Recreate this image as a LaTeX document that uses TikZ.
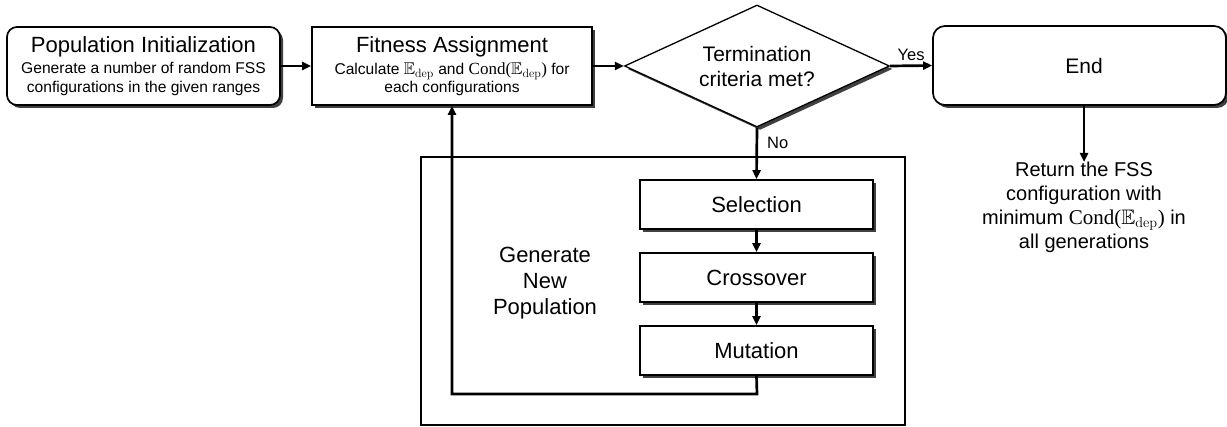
\documentclass[tikz,border=0pt]{standalone}
\usepackage{amssymb}
\usepackage[no-math]{fontspec}
\setmainfont{Liberation Sans}
\newfontfamily\condfont{Liberation Serif}
\usetikzlibrary{shapes.geometric,shadows,arrows.meta}
\newcommand{\Edep}{\mathbb{E}_{\mathrm{dep}}}
\newcommand{\CondE}{{\condfont Cond(}$\Edep${\condfont )}}
\begin{document}
\begin{tikzpicture}[x=1pt,y=-1pt,
  shad/.style={drop shadow={shadow xshift=3pt,shadow yshift=-3pt,fill=black!75,opacity=1}},
  box/.style={draw,line width=1.7pt,fill=white,shad,inner sep=0pt,align=center},
  stepbox/.style={box,minimum width=233pt,minimum height=49pt,font=\fontsize{22}{26}\selectfont},
  arr/.style={line width=2.7pt,-{Triangle[length=9pt,width=8pt]}},
  lbl/.style={font=\fontsize{16.5}{18}\selectfont,inner sep=0pt}]
\useasboundingbox (0,0) rectangle (1227,427);
% group frame
\node[draw,line width=1.1pt,minimum width=484pt,minimum height=268pt,inner sep=0pt] (grp) at (663,291) {};
% boxes
\node[box,rounded corners=10pt,minimum width=273pt,minimum height=78pt,font=\fontsize{15.6}{18.5}\selectfont] (pop) at (143.5,66)
  {{\fontsize{22}{24}\selectfont Population Initialization}\\[3pt]
   Generate a number of random FSS\\ configurations in the given ranges};
\node[box,minimum width=280pt,minimum height=78pt,font=\fontsize{15.6}{17.5}\selectfont] (fit) at (452,66)
  {{\fontsize{22}{24}\selectfont Fitness Assignment}\\[5pt]
   Calculate {\fontsize{17}{17.5}\selectfont$\Edep$} and {\fontsize{17}{17.5}\selectfont\CondE} for\\ each configurations};
\node[diamond,aspect=2.17,draw,line width=1.3pt,fill=white,shad,inner sep=0pt,minimum width=265pt,minimum height=122pt,
  align=center,font=\fontsize{21}{25}\selectfont] (term) at (757,66) {Termination\\ criteria met?};
\node[box,rounded corners=12pt,minimum width=293pt,minimum height=79pt,font=\fontsize{21}{24}\selectfont] (end) at (1079.5,65.5) {\hspace*{9pt}End};
\node[stepbox] (sel) at (756.5,204.5) {Selection};
\node[stepbox] (cro) at (756.5,277.5) {Crossover};
\node[stepbox] (mut) at (756.5,350.5) {Mutation};
\node[align=center,font=\fontsize{22}{26}\selectfont,inner sep=0pt] (gnp) at (545,283) {Generate\\ New\\ Population};
\node[align=center,font=\fontsize{20}{24}\selectfont,inner sep=0pt,anchor=north] (ret) at (1084,162)
  {Return the FSS\\ configuration with\\ minimum {\fontsize{21}{24}\selectfont\CondE} in\\ all generations};
% connectors
\draw[arr] (pop) -- (fit);
\draw[arr] (fit) -- (term.west);
\draw[arr] (term.east) -- node[lbl,above=4pt] {Yes} (end.west);
\draw[arr] (term.south) -- node[lbl,pos=0.3,right=9pt] {No} (sel.north);
\draw[arr] (sel) -- (cro);
\draw[arr] (cro) -- (mut);
\draw[arr] (end.south -| ret.north) -- (ret.north);
\coordinate (fb) at (757,394);
\draw[arr] (mut.south) -- (fb) -| (fit.south);
\end{tikzpicture}
\end{document}
